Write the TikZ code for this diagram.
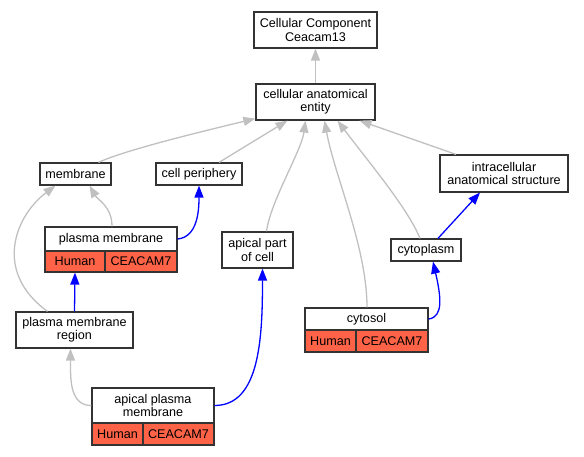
\documentclass[tikz,border=0pt]{standalone}
\usepackage{fontspec}
\setmainfont{Liberation Sans}
\usetikzlibrary{arrows.meta}
\definecolor{edgegray}{HTML}{C0C0C0}
\definecolor{tomato}{HTML}{FF6347}
\definecolor{boxline}{HTML}{333333}
\begin{document}
\begin{tikzpicture}[x=1pt,y=-1pt,
  box/.style={draw=boxline, line width=1.2pt, fill=white, inner sep=0pt, align=center,
    font=\fontsize{12.6}{13.3}\selectfont},
  cell/.style={box, fill=tomato},
  isa/.style={draw=edgegray, line width=1.3pt, -{Triangle[length=12pt,width=9pt]}},
  partof/.style={draw=blue, line width=1.3pt, -{Triangle[length=12pt,width=9pt]}}
]
\useasboundingbox (0,0) rectangle (584,456);
% nodes
\node[box, minimum width=123pt, minimum height=36pt] (cc) at (315.5,30) {Cellular Component\\Ceacam13};
\node[box, minimum width=119pt, minimum height=36pt] (cae) at (315.5,102) {cellular anatomical\\entity};
\node[box, minimum width=71pt, minimum height=22pt] (mem) at (75.5,174) {membrane};
\node[box, minimum width=86pt, minimum height=22pt] (cp) at (199,174) {cell periphery};
\node[box, minimum width=128pt, minimum height=37pt] (ias) at (504,173.5) {intracellular\\anatomical structure};
% plasma membrane record
\node[box, minimum width=132pt, minimum height=24pt] (pm) at (111,239) {plasma membrane};
\node[cell, minimum width=60pt, minimum height=21pt] (pmh) at (75,261.5) {Human};
\node[cell, minimum width=72pt, minimum height=21pt] (pmc) at (141,261.5) {CEACAM7};
\node[box, minimum width=71pt, minimum height=36pt] (apc) at (257.5,250) {apical part\\of cell};
\node[box, minimum width=70pt, minimum height=22pt] (cyto) at (426,250) {cytoplasm};
\node[box, minimum width=117pt, minimum height=36pt] (pmr) at (74.5,330) {plasma membrane\\region};
% cytosol record
\node[box, minimum width=123pt, minimum height=22pt] (cyts) at (366.5,319) {cytosol};
\node[cell, minimum width=51pt, minimum height=22pt] (cytsh) at (330.5,341) {Human};
\node[cell, minimum width=72pt, minimum height=22pt] (cytsc) at (392,341) {CEACAM7};
% apical plasma membrane record
\node[box, minimum width=122pt, minimum height=35pt] (apm) at (153,405.5) {apical plasma\\membrane};
\node[cell, minimum width=51pt, minimum height=22pt] (apmh) at (117.5,434) {Human};
\node[cell, minimum width=71pt, minimum height=22pt] (apmc) at (178.5,434) {CEACAM7};
% gray edges
\draw[isa] (cae.north) -- (cc.south);
\draw[isa] ([xshift=23pt]mem.north) .. controls +(25,-12) and +(-50,12) .. ([yshift=2pt]cae.south west);
\draw[isa] ([xshift=20pt]cp.north) -- ([xshift=-28pt]cae.south);
\draw[isa] ([xshift=9pt]apc.north) .. controls +(4,-30) and +(-4,30) .. ([xshift=-10pt]cae.south);
\draw[isa] ([xshift=0.5pt]cyts.north) .. controls +(0,-60) and +(10,55) .. ([xshift=9pt]cae.south);
\draw[isa] ([xshift=-6pt]cyto.north) .. controls +(-12,-30) and +(30,40) .. ([xshift=22pt]cae.south);
\draw[isa] ([xshift=-48pt]ias.north) -- ([xshift=44pt]cae.south);
\draw[isa] ([xshift=1pt]pm.north) .. controls +(0,-20) and +(8,14) .. ([xshift=14pt]mem.south);
\draw[isa] ([xshift=-27pt]pmr.north) .. controls +(-55,-40) and +(-40,30) .. ([xshift=-20pt]mem.south);
\draw[isa] (apm.west) .. controls +(-22,0) and +(0,30) .. ([xshift=-4pt]pmr.south);
% blue edges
\draw[partof] (pmr.north) -- (pmh.south);
\draw[partof] (pm.east) .. controls +(20,-2) and +(0,25) .. (cp.south);
\draw[partof] (apm.east) .. controls +(45,0) and +(0,70) .. ([xshift=5pt]apc.south);
\draw[partof] (cyts.east) .. controls +(15,-2) and +(8,35) .. ([xshift=7pt]cyto.south);
\draw[partof] ([xshift=12pt]cyto.north) -- ([xshift=-24pt]ias.south);
\end{tikzpicture}
\end{document}
